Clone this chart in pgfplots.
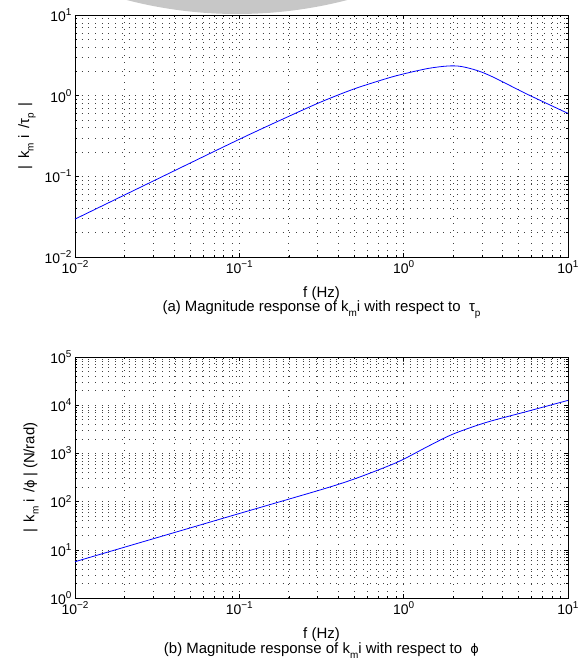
\documentclass[border=0pt]{standalone}
\usepackage{fontspec}
\setmainfont{Liberation Sans}
\newfontfamily\dejavu{DejaVu Sans}
\usepackage{pgfplots}
\usepackage{pgfplotstable}
\pgfplotsset{compat=1.18}

% lowered / raised small text, MATLAB style
\newcommand{\sub}[1]{\raisebox{-0.55ex}{\fontsize{10}{10}\selectfont #1}}
\newcommand{\ex}[1]{\raisebox{0.8ex}{\fontsize{10}{10}\selectfont #1}}
\newcommand{\phisym}{{\dejavu\fontsize{13}{15}\selectfont ϕ}}

\pgfplotstableread{
f      mag
0.01   0.0295
0.0316 0.0923
0.1    0.288
0.1995 0.553
0.3162 0.841
0.5012 1.216
0.7943 1.641
1.0    1.862
1.413  2.178
1.862  2.333
2.239  2.301
2.818  2.042
3.548  1.679
5.623  1.047
10     0.603
}\tautable

\pgfplotstableread{
f      mag
0.01   5.66
0.0316 17.9
0.1    56.6
0.3162 177.8
0.5012 295
0.7943 537
1.0    759
1.413  1413
1.995  2512
3.162  4365
5.623  7413
10     12589
}\phitable

\pgfplotsset{
  every axis/.append style={
    scale only axis, width=493bp,
    xmin=0.01, xmax=10,
    xtick={0.01,0.1,1,10},
    minor xtick={0.02,0.03,0.04,0.05,0.06,0.07,0.08,0.09,
                 0.2,0.3,0.4,0.5,0.6,0.7,0.8,0.9,2,3,4,5,6,7,8,9},
    xticklabels={10\ex{−2},10\ex{−1},10\ex{0},10\ex{1}},
    grid=both,
    major grid style={black!75, line width=0.6bp, dash pattern=on 0.7bp off 6bp},
    minor grid style={black!75, line width=0.6bp, dash pattern=on 0.7bp off 6bp},
    tick align=inside,
    major tick length=4.5bp, minor tick length=2.5bp,
    axis line style={black, line width=0.7bp},
    tick style={black, line width=0.5bp},
    ticklabel style={font=\fontsize{14}{16}\selectfont},
    label style={font=\fontsize{15}{17}\selectfont},
    xlabel style={at={(axis description cs:0.5,0)}, anchor=base, yshift=-40bp},
    clip mode=individual,
  },
  every axis plot/.append style={blue, line width=0.8bp, no marks, smooth},
}

\begin{document}
\begin{tikzpicture}
\begin{scope}
\clip (-75bp,242bp) rectangle (510bp,257bp);
\fill[black!22] (162bp,682bp) circle[radius=439bp];
\end{scope}

\begin{loglogaxis}[
  name=top, at={(0,0)}, anchor=south west,
  height=242bp,
  ymin=0.01, ymax=10,
  ytick={0.01,0.1,1,10},
  minor ytick={0.02,0.03,0.04,0.05,0.06,0.07,0.08,0.09,
               0.2,0.3,0.4,0.5,0.6,0.7,0.8,0.9,2,3,4,5,6,7,8,9},
  yticklabels={10\ex{−2},10\ex{−1},10\ex{0},10\ex{1}},
  xlabel={f (Hz)},
  ylabel={| \,k\sub{m} i \,/τ\sub{p} \,|},
  ylabel style={at={(axis description cs:-0.0974,0.5)}, anchor=center},
]
\addplot table[x=f, y=mag] {\tautable};
\node[font=\fontsize{15}{17}\selectfont, anchor=base] at (axis description cs:0.5,-0.227)
  {(a) Magnitude response of k\sub{m}i with respect to \ τ\sub{p}};
\end{loglogaxis}

\begin{loglogaxis}[
  name=bottom, at={(0,-341bp)}, anchor=south west,
  height=241bp,
  ymin=1, ymax=100000,
  ytick={1,10,100,1000,10000,100000},
  minor ytick={2,3,4,5,6,7,8,9,20,30,40,50,60,70,80,90,
               200,300,400,500,600,700,800,900,2000,3000,4000,5000,6000,7000,8000,9000,
               20000,30000,40000,50000,60000,70000,80000,90000},
  yticklabels={10\ex{0},10\ex{1},10\ex{2},10\ex{3},10\ex{4},10\ex{5}},
  xlabel={f (Hz)},
  ylabel={| \,k\sub{m} i \,/\phisym \,| (N/rad)},
  ylabel style={at={(axis description cs:-0.0892,0.5)}, anchor=center},
]
\addplot table[x=f, y=mag] {\phitable};
\node[font=\fontsize{15}{17}\selectfont, anchor=base] at (axis description cs:0.5,-0.232)
  {(b) Magnitude response of k\sub{m}i with respect to \ \phisym};
\end{loglogaxis}

\pgfresetboundingbox
\path[use as bounding box] (-75bp,-404bp) rectangle (510bp,257bp);
\end{tikzpicture}
\end{document}
